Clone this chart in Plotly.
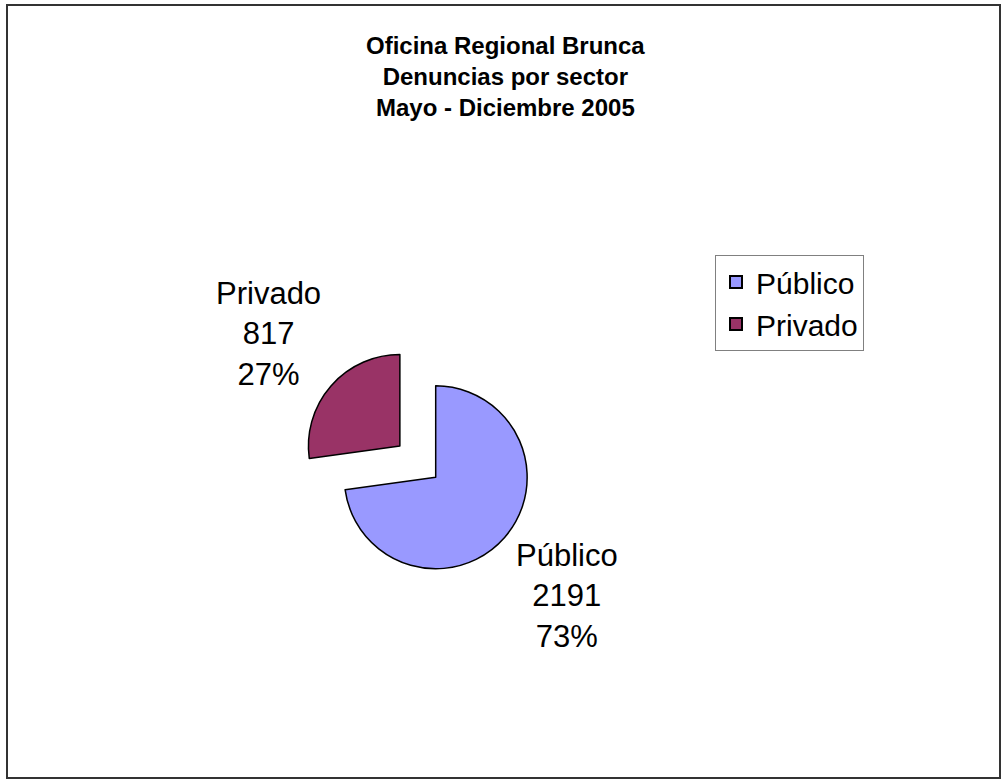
import plotly.graph_objects as go

# Data
title_lines = ["Oficina Regional Brunca", "Denuncias por sector", "Mayo - Diciembre 2005"]
categories = ["Público", "Privado"]
values = [2191, 817]
colors = ["#9999FF", "#993366"]
pulls = [0, 0.52]

W, H = 1003, 780
FONT = "Liberation Sans, Arial, sans-serif"

total = sum(values)
pcts = [round(v / total * 100) for v in values]

fig = go.Figure()
fig.add_trace(go.Pie(
    labels=categories,
    values=values,
    sort=False,
    direction="clockwise",
    rotation=0,
    pull=pulls,
    textinfo="none",
    hoverinfo="label+value+percent",
    marker=dict(colors=colors, line=dict(color="#000000", width=1.5)),
    domain=dict(x=[296.7 / W, 574.7 / W], y=[163.7 / H, 441.7 / H]),
))

# Data labels (positions in paper px)
label_pos = {"Público": (567, 596), "Privado": (268, 334)}
for cat, v, p in zip(categories, values, pcts):
    px, py = label_pos[cat]
    fig.add_annotation(
        x=px / W, y=1 - py / H, xref="paper", yref="paper",
        xanchor="center", yanchor="middle",
        text=f"{cat}<br>{v}<br>{p}%", showarrow=False,
        font=dict(family=FONT, size=31, color="#000000"),
        align="center",
    )

# Title
fig.add_annotation(
    x=505 / W, y=1 - 76.5 / H, xref="paper", yref="paper",
    xanchor="center", yanchor="middle",
    text="<b>" + "<br>".join(title_lines) + "</b>", showarrow=False,
    font=dict(family=FONT, size=24, color="#000000"),
    align="center",
)

# Chart border
fig.add_shape(type="rect", xref="paper", yref="paper",
              x0=7 / W, x1=1000 / W, y0=1 - 778 / H, y1=1 - 5 / H,
              line=dict(color="#333333", width=2), fillcolor="rgba(0,0,0,0)")

fig.update_layout(
    width=W, height=H,
    margin=dict(l=0, r=0, t=0, b=0),
    paper_bgcolor="#FFFFFF",
    plot_bgcolor="#FFFFFF",
    showlegend=True,
    legend=dict(
        x=715 / W, y=1 - 255 / H, xanchor="left", yanchor="top",
        font=dict(family=FONT, size=30, color="#000000"),
        bordercolor="#808080", borderwidth=1, bgcolor="#FFFFFF",
        tracegroupgap=0, itemsizing="constant",
    ),
)

fig.write_html(
    "out.html",
    config={"displayModeBar": False},
    post_script="document.body.style.margin='0px';document.body.style.overflow='hidden';",
)
